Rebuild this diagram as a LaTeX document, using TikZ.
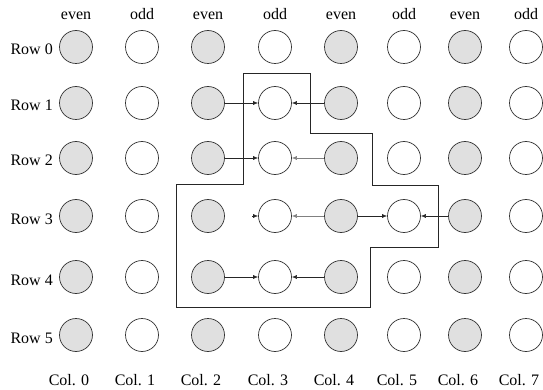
\documentclass[tikz,border=0pt]{standalone}
\usepackage{fontspec}
\setmainfont{Liberation Serif}
\usetikzlibrary{arrows.meta}
\begin{document}
\begin{tikzpicture}[x=1pt,y=-1pt,
  cell/.style={circle,draw=black!80,line width=0.7pt,minimum size=33pt,inner sep=0pt},
  evencell/.style={cell,fill=black!12},
  oddcell/.style={cell,fill=white},
  lab/.style={font=\fontsize{16}{19}\selectfont,inner sep=0pt,anchor=base},
  arr/.style={line width=0.6pt,draw=black!85,-{Latex[length=5pt,width=4pt]}},
  faint/.style={arr,draw=black!50},
  region/.style={draw=black!85,line width=0.8pt}]
\useasboundingbox (0,0) rectangle (543,390);
% grid of cells
\foreach \c/\x/\t in {0/76/even,1/142/odd,2/208/even,3/275/odd,4/341/even,5/404/odd,6/465/even,7/526/odd}{
  \node[lab] (h\c) at (\x,20) {\t};
  \node[lab] (cl\c) at (\x-7,385) {Col. \c};
  \foreach \r/\y in {0/47,1/103,2/158,3/216,4/277,5/335}{
    \ifodd\c
      \node[oddcell] (n\r\c) at (\x,\y) {};
    \else
      \node[evencell] (n\r\c) at (\x,\y) {};
    \fi
  }
}
\foreach \r/\y in {0/47,1/103,2/158,3/216,4/277,5/335}{
  \node[lab,anchor=base east] (rl\r) at (53,\y+8) {Row \r};
}
% region outline
\draw[region] (243,73) -- (310,73) -- (310,133) -- (372,133) -- (372,185)
  -- (438,185) -- (438,247) -- (370,247) -- (370,307) -- (176,307)
  -- (176,184) -- (243,184) -- cycle;
% arrows
\draw[arr] (n12) -- (n13);
\draw[arr] (n14) -- (n13);
\draw[arr] (n22) -- (n23);
\draw[faint] (n24) -- (n23);
\coordinate (s3) at ([xshift=-6pt]n33.west);
\draw[arr] (s3) -- (n33.west);
\draw[faint] (n34) -- (n33);
\draw[arr] (n34) -- (n35);
\draw[arr] (n36) -- (n35);
\draw[arr] (n42) -- (n43);
\draw[arr] (n44) -- (n43);
\end{tikzpicture}
\end{document}
